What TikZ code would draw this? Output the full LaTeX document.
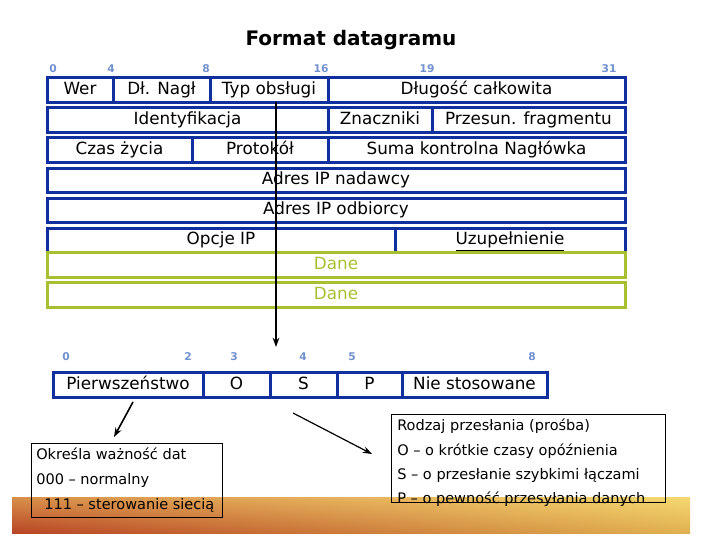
\documentclass[tikz,border=0pt]{standalone}
\usepackage{fontspec}
\setmainfont{DejaVu Sans}
\usetikzlibrary{arrows.meta}
\usetikzlibrary{shadings}
\definecolor{hdrblue}{RGB}{16,48,160}
\definecolor{datagreen}{RGB}{168,192,48}
\definecolor{bitblue}{RGB}{112,144,208}
\definecolor{bandtl}{RGB}{216,144,74}
\definecolor{bandbl}{RGB}{184,69,37}
\definecolor{bandtr}{RGB}{245,216,112}
\definecolor{bandbr}{RGB}{224,176,80}
\tikzset{
	hdrbox/.style={draw=hdrblue, line width=2.25pt},
	databox/.style={draw=datagreen, line width=2.25pt},
	fieldtxt/.style={inner sep=0pt, text height=0.72em, text depth=0pt, font=\fontsize{12.6}{14}\selectfont},
	bitnr/.style={inner sep=0pt, text=bitblue, font=\fontsize{8}{9}\selectfont\bfseries},
	notetxt/.style={inner sep=0pt, text height=0.72em, text depth=0pt, anchor=west, font=\fontsize{10.9}{12}\selectfont},
	link/.style={line width=1.2pt, -{Stealth[length=7pt,width=5pt]}}
}
\newcommand{\field}[6] % name, x start, x end, y top, y bottom, text (px)
{
	\draw[hdrbox] (#2,#4) rectangle (#3,#5);
	\node[fieldtxt] (#1) at ({(#2+#3)/2},{(#4+#5)/2}) {#6};
}
\begin{document}
\begin{tikzpicture}[x=0.75pt,y=-0.75pt]
	% 720px x 540px
	\useasboundingbox (0,0) rectangle (720,540);
	\shade[upper left=bandtl, lower left=bandbl, upper right=bandtr, lower right=bandbr] (12,497) rectangle (690,533);

	\node[font=\fontsize{15}{18}\selectfont\bfseries] (title) at (351,40) {Format datagramu};

	% bit numbers
	\foreach \n/\x in {0/53,4/111,8/206,16/321,19/427,31/609}
		\node[bitnr] (top\n) at (\x,69) {\n};

	% header rows
	\field{wer}{47}{113}{77}{102}{Wer};
	\field{dlnagl}{113}{210}{77}{102}{Dł. Nagł};
	\field{typ}{210}{328}{77}{102}{Typ obsługi};
	\field{dlugosc}{328}{625}{77}{102}{Długość całkowita};

	\field{ident}{47}{328}{107}{132}{Identyfikacja};
	\field{znaczniki}{328}{432}{107}{132}{Znaczniki};
	\field{przesun}{432}{625}{107}{132}{Przesun. fragmentu};

	\field{czas}{47}{192}{137}{162}{Czas życia};
	\field{protokol}{192}{328}{137}{162}{Protokół};
	\field{suma}{328}{625}{137}{162}{Suma kontrolna Nagłówka};

	\field{nadawca}{47}{625}{168}{192}{Adres IP nadawcy};
	\field{odbiorca}{47}{625}{198}{222}{Adres IP odbiorcy};

	\field{opcje}{47}{395}{228}{252}{Opcje IP};
	\field{uzup}{395}{625}{228}{252}{\underline{Uzupełnienie}};

	% data
	\draw[databox] (47,252) rectangle (625,277);
	\node[fieldtxt, text=datagreen] (dane1) at (336,264.5) {Dane};
	\draw[databox] (47,282) rectangle (625,307);
	\node[fieldtxt, text=datagreen] (dane2) at (336,294.5) {Dane};

	% typ obslugi bits
	\foreach \n/\x in {0/66,2/188,3/234,4/303,5/352,8/532}
		\node[bitnr] (tos\n) at (\x,357) {\n};

	\field{pierw}{53}{203}{372}{397}{Pierwszeństwo};
	\field{bito}{203}{270}{372}{397}{O};
	\field{bits}{270}{337}{372}{397}{S};
	\field{bitp}{337}{402}{372}{397}{P};
	\field{niestos}{402}{547}{372}{397}{Nie stosowane};

	\coordinate (vtop) at (276,102);
	\coordinate (vend) at (276,347);
	\draw[link] (vtop) -- (vend);

	% notes
	\draw[line width=0.75pt] (31,443) rectangle (222,517);
	\node[notetxt] (waznosc) at (36,455) {Określa ważność dat};
	\node[notetxt] (normalny) at (36,480) {000 – normalny};
	\node[notetxt] (sterowanie) at (44,505) {111 – sterowanie siecią};

	\draw[line width=0.75pt] (391,414) rectangle (665,502);
	\node[notetxt] (rodzaj) at (397,426) {Rodzaj przesłania (prośba)};
	\node[notetxt] (opozn) at (397,451) {O – o krótkie czasy opóźnienia};
	\node[notetxt] (szybkie) at (397,475) {S – o przesłanie szybkimi łączami};
	\node[notetxt] (pewnosc) at (397,499) {P – o pewność przesyłania danych};

	\coordinate (pstart) at (133,402);
	\coordinate (pend) at (114,437);
	\draw[link] (pstart) -- (pend);
	\coordinate (rstart) at (293,413);
	\coordinate (rend) at (372,454);
	\draw[link, line width=0.9pt] (rstart) -- (rend);
\end{tikzpicture}
\end{document}
